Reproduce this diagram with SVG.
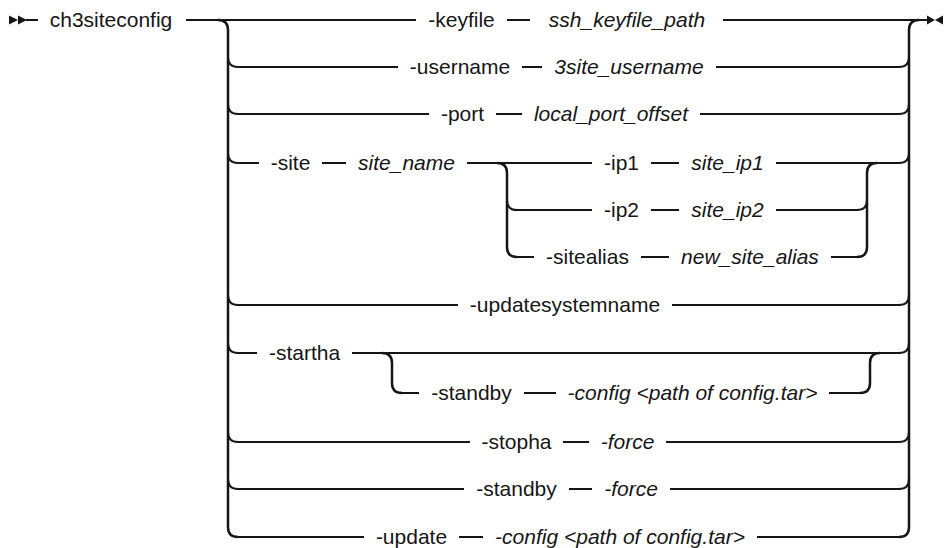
<svg xmlns="http://www.w3.org/2000/svg" width="945" height="548" viewBox="0 0 945 548">
<style>
.l{fill:none;stroke:#161616;stroke-width:2}
.v{fill:none;stroke:#161616;stroke-width:2.5}
.a{fill:#161616;stroke:none}
text{font-family:"Liberation Sans",Arial,sans-serif;font-size:21px;fill:#161616;text-anchor:middle}
.i{font-style:italic}
</style>
<rect width="945" height="548" fill="#ffffff"/>
<g id="connectors">
  <path class="a" d="M9 15.5 L18 20 L9 24.5 Z M18 15.5 L27 20 L18 24.5 Z"/>
  <path class="l" d="M26 20 H38"/>
  <path class="a" d="M927 15.5 L935 20 L927 24.5 Z M943 15.5 L935 20 L943 24.5 Z"/>
  <path class="v" d="M218 20 Q228 20 228 30 V527 Q228 537 238 537"/>
  <path class="v" d="M899 537 Q909 537 909 527 V30 Q909 20 919 20"/>
  <path class="l" d="M186 20 H416 M507 20 H530 M723 20 H928"/>
  <path class="l" d="M228 57 Q228 67 238 67 H398 M522 67 H542 M716 67 H899 Q909 67 909 57"/>
  <path class="l" d="M228 104 Q228 114 238 114 H429 M496 114 H522 M700 114 H899 Q909 114 909 104"/>
  <path class="l" d="M228 153 Q228 163 238 163 H259 M322 163 H346 M467 163 H592 M651 163 H679 M776 163 H899 Q909 163 909 153"/>
  <path class="v" d="M497 163 Q507 163 507 173 V247 Q507 257 517 257"/>
  <path class="v" d="M857 257 Q867 257 867 247 V173 Q867 163 877 163"/>
  <path class="l" d="M507 200 Q507 210 517 210 H592 M651 210 H679 M776 210 H857 Q867 210 867 200"/>
  <path class="l" d="M517 257 H534 M641 257 H669 M831 257 H857"/>
  <path class="l" d="M228 295 Q228 305 238 305 H458 M672 305 H899 Q909 305 909 295"/>
  <path class="l" d="M228 343 Q228 353 238 353 H257 M352 353 H899 Q909 353 909 343"/>
  <path class="v" d="M382 353 Q392 353 392 363 V383 Q392 393 402 393"/>
  <path class="v" d="M860 393 Q870 393 870 383 V363 Q870 353 880 353"/>
  <path class="l" d="M402 393 H419 M524 393 H556 M829 393 H860"/>
  <path class="l" d="M228 432 Q228 442 238 442 H470 M563 442 H589 M666 442 H899 Q909 442 909 432"/>
  <path class="l" d="M228 479 Q228 489 238 489 H464 M569 489 H592 M670 489 H899 Q909 489 909 479"/>
  <path class="l" d="M238 537 H364 M459 537 H483 M757 537 H899"/>
</g>
<g id="cmd"><text x="111" y="27">ch3siteconfig</text></g>
<g id="keyfile"><text x="461.5" y="27">-keyfile</text><text class="i" x="627" y="27">ssh_keyfile_path</text></g>
<g id="username"><text x="460" y="74">-username</text><text class="i" x="629" y="74">3site_username</text></g>
<g id="port"><text x="462.5" y="121">-port</text><text class="i" x="611" y="121">local_port_offset</text></g>
<g id="site"><text x="290.5" y="170">-site</text><text class="i" x="406.5" y="170">site_name</text></g>
<g id="ip1"><text x="621.5" y="170">-ip1</text><text class="i" x="727.5" y="170">site_ip1</text></g>
<g id="ip2"><text x="621.5" y="217">-ip2</text><text class="i" x="727.5" y="217">site_ip2</text></g>
<g id="sitealias"><text x="587.5" y="264">-sitealias</text><text class="i" x="750" y="264">new_site_alias</text></g>
<g id="updatesystemname"><text x="565" y="312">-updatesystemname</text></g>
<g id="startha"><text x="304.5" y="360">-startha</text></g>
<g id="startha-standby"><text x="471.5" y="400">-standby</text><text class="i" x="692.5" y="400">-config &lt;path of config.tar&gt;</text></g>
<g id="stopha"><text x="516.5" y="449">-stopha</text><text class="i" x="627.5" y="449">-force</text></g>
<g id="standby"><text x="516.5" y="496">-standby</text><text class="i" x="631" y="496">-force</text></g>
<g id="update"><text x="411.5" y="544">-update</text><text class="i" x="620" y="544">-config &lt;path of config.tar&gt;</text></g>
</svg>
